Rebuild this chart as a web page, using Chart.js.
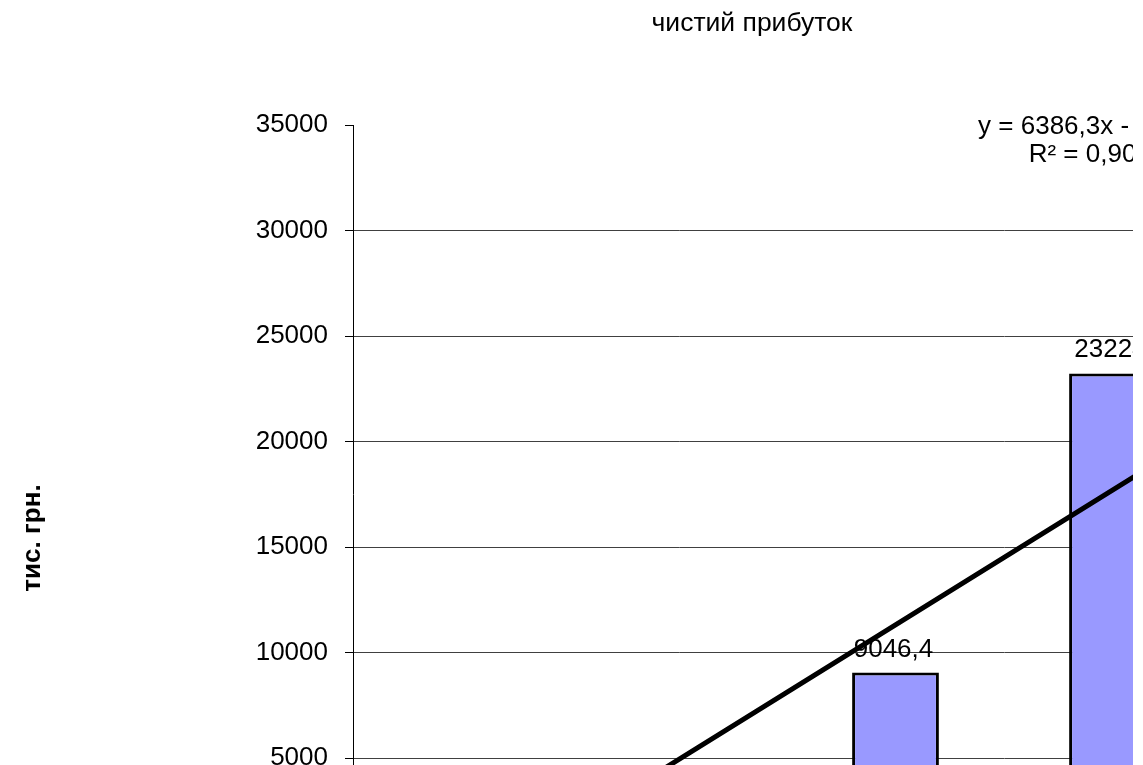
<!DOCTYPE html>
<html>
<head>
<meta charset="utf-8">
<script src="https://cdn.jsdelivr.net/npm/chart.js@4/dist/chart.umd.min.js"></script>
<style>
  html, body { margin: 0; padding: 0; background: #fff; }
  #frame { position: relative; width: 1133px; height: 765px; overflow: hidden; background: #fff; }
  canvas { display: block; }
</style>
</head>
<body>
<div id="frame"><canvas id="profitChart" width="1700" height="1000"></canvas></div>
<script>
// Net profit by period, thousand UAH
const categories = ['1', '2', '3', '4', '5', '6'];
const profit = [1512.3, 987.6, 9046.4, 23224, 20675.9, 31567.9];

// Value axis
const yMin = 0;
const yMax = 35000;
const yStep = 5000;

// Texts
const chartTitle = 'чистий прибуток';
const yAxisTitle = 'тис. грн.';

const FONT = "'Liberation Sans', Arial, sans-serif";

// Least-squares linear trend over x = 1..n (as in a spreadsheet trendline)
function linearFit(ys) {
  const n = ys.length;
  const xs = ys.map((_, i) => i + 1);
  const mx = xs.reduce((a, b) => a + b, 0) / n;
  const my = ys.reduce((a, b) => a + b, 0) / n;
  let sxy = 0, sxx = 0, syy = 0;
  for (let i = 0; i < n; i++) {
    sxy += (xs[i] - mx) * (ys[i] - my);
    sxx += (xs[i] - mx) * (xs[i] - mx);
    syy += (ys[i] - my) * (ys[i] - my);
  }
  const slope = sxy / sxx;
  const intercept = my - slope * mx;
  const r2 = (sxy * sxy) / (sxx * syy);
  return { slope, intercept, r2, values: xs.map(x => slope * x + intercept) };
}

const fit = linearFit(profit);

function fmtNum(v) {
  const r = Math.round(v * 10) / 10;
  return String(r).replace('.', ',');
}

const equationText = 'y = ' + fmtNum(fit.slope) + 'x ' + (fit.intercept < 0 ? '- ' : '+ ') + fmtNum(Math.abs(fit.intercept));
const r2Text = 'R² = ' + fit.r2.toFixed(4).replace('.', ',');

// Value labels above each column
const barLabels = {
  id: 'barLabels',
  afterDatasetsDraw(chart) {
    const ctx = chart.ctx;
    chart.data.datasets.forEach((ds, di) => {
      if (ds.type !== 'bar') return;
      const meta = chart.getDatasetMeta(di);
      meta.data.forEach((el, i) => {
        ctx.save();
        ctx.font = '26px ' + FONT;
        ctx.fillStyle = '#000';
        ctx.textAlign = 'center';
        ctx.textBaseline = 'alphabetic';
        ctx.fillText(fmtNum(ds.data[i]), el.x - 2, el.y - 16);
        ctx.restore();
      });
    });
  }
};

// Chart title, value-axis title and trendline equation
const chartTexts = {
  id: 'chartTexts',
  afterDraw(chart) {
    const ctx = chart.ctx;
    const area = chart.chartArea;
    ctx.save();
    ctx.fillStyle = '#000';

    ctx.font = '26.5px ' + FONT;
    ctx.textAlign = 'center';
    ctx.textBaseline = 'alphabetic';
    ctx.fillText(chartTitle, 752, 31);

    ctx.save();
    ctx.translate(40, 538);
    ctx.rotate(-Math.PI / 2);
    ctx.font = 'bold 26px ' + FONT;
    ctx.fillText(yAxisTitle, 0, 0);
    ctx.restore();

    ctx.font = '26px ' + FONT;
    const eqX = area.left + 744;
    ctx.fillText(equationText, eqX, area.top + 9);
    ctx.fillText(r2Text, eqX, area.top + 37);
    ctx.restore();
  }
};

new Chart(document.getElementById('profitChart'), {
  type: 'bar',
  data: {
    labels: categories,
    datasets: [
      {
        type: 'line',
        label: 'trend',
        data: fit.values,
        borderColor: '#000',
        borderWidth: 5,
        pointRadius: 0,
        fill: false,
        tension: 0,
        order: 0
      },
      {
        type: 'bar',
        label: chartTitle,
        data: profit,
        backgroundColor: '#9999FF',
        borderColor: '#000',
        borderWidth: 3,
        borderSkipped: false,
        barPercentage: 0.4,
        categoryPercentage: 1,
        order: 1
      }
    ]
  },
  options: {
    responsive: false,
    animation: false,
    devicePixelRatio: 1,
    layout: { padding: { top: 125, right: 45, bottom: 136.5, left: 0 } },
    plugins: {
      legend: { display: false },
      tooltip: { enabled: false },
      title: { display: false }
    },
    scales: {
      x: { display: false, offset: true },
      y: {
        min: yMin,
        max: yMax,
        ticks: {
          stepSize: yStep,
          color: '#000',
          padding: 17,
          font: { family: FONT, size: 26 },
          callback: v => String(v)
        },
        grid: {
          color: c => (c.tick && c.tick.value === yMax) ? 'rgba(0,0,0,0)' : '#404040',
          tickColor: '#000',
          tickLength: 8,
          lineWidth: 1
        },
        border: { display: true, color: '#000', width: 1 },
        afterFit(scale) { scale.width = 353; }
      }
    }
  },
  plugins: [barLabels, chartTexts]
});
</script>
</body>
</html>
